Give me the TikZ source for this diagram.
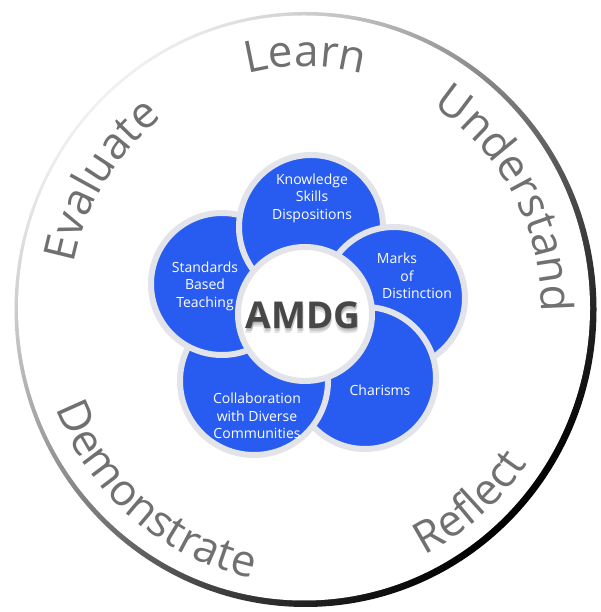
\documentclass[tikz,border=0pt]{standalone}
\usepackage{fontspec}
\setmainfont{Open Sans}
\usetikzlibrary{shadows,decorations.text}
\definecolor{petalblue}{RGB}{40,92,240}
\definecolor{rimgray}{RGB}{226,228,234}
\definecolor{wordgray}{RGB}{112,112,112}
\tikzset{
  petal/.style={circle, draw=rimgray, line width=6pt, fill=petalblue, inner sep=0pt,
    drop shadow={opacity=0.3, shadow xshift=1pt, shadow yshift=-1.5pt}},
  petaltext/.style={text=white, align=center, font=\fontsize{14}{17.5}\selectfont},
  ringword/.style={decorate, decoration={text along path, text align=center, text color=wordgray}},
  hubtext/.style={font=\bfseries\fontsize{37}{37}\selectfont},
}
\newcommand{\wordfont}{\fontsize{44}{44}\selectfont}

\begin{document}
\begin{tikzpicture}[x=1pt,y=1pt]
  \useasboundingbox (0,0) rectangle (601,612);
  \coordinate (c) at (305.5,302.5);

  % outer ring
  \shade[top color=gray!12, bottom color=black, shading angle=45] (c) ellipse [x radius=291, y radius=297.5];
  \fill[white] ([shift={(-1.5,1.5)}]c) ellipse [x radius=286, y radius=292.5];

  \path[ringword, decoration={text={|\wordfont|Learn}}] (c) ++(130:238 and 243) arc[start angle=130, end angle=50, x radius=238, y radius=243];
  \path[ringword, decoration={text={|\wordfont|Understand}}] (c) ++(70:236 and 241) arc[start angle=70, end angle=-13, x radius=236, y radius=241];
  \path[ringword, decoration={text={|\wordfont|Evaluate}}] (c) ++(188:236 and 241) arc[start angle=188, end angle=108, x radius=236, y radius=241];
  \path[ringword, decoration={text={|\wordfont|Demonstrate}}] (c) ++(187:268 and 274) arc[start angle=187, end angle=273, x radius=268, y radius=274];
  \path[ringword, decoration={text={|\wordfont|Reflect}}] (c) ++(280:268 and 274) arc[start angle=280, end angle=342, x radius=268, y radius=274];

  % petals
  \node[petal, minimum size=142pt] (stdC) at (222,328) {};
  \node[petal, minimum size=144pt] (knowC) at (311,385) {};
  \node[petal, minimum size=142pt] (marksC) at (394,314) {};
  \node[petal, minimum size=142pt] (charC) at (365,234) {};
  \node[petal, minimum size=148pt] (collC) at (254,231) {};
  \begin{scope}
    \clip (140,240) rectangle (300,307);
    \node[petal, minimum size=142pt] (stdT) at (222,328) {};
  \end{scope}

  \node[circle, draw=rimgray, line width=6pt, fill=white, minimum size=134pt,
    drop shadow={opacity=0.3, shadow xshift=1pt, shadow yshift=-1.5pt}] (hub) at (305,298) {};
  \node[hubtext, text=black, opacity=0.10] (amdgshadeA) at (303,292) {AMDG};
  \node[hubtext, text=black, opacity=0.12] (amdgshadeB) at (304,294) {AMDG};
  \node[hubtext, text=black, opacity=0.15] (amdgshadeC) at (303.5,295.5) {AMDG};
  \node[hubtext, text=black!72] (amdg) at (303,297) {AMDG};

  \node[petaltext] (know) at (312,414) {Knowledge\\Skills\\Dispositions};
  \node[petaltext] (marks) at (407,336) {Marks\hspace*{20pt}\\of\\\hspace*{20pt}Distinction};
  \node[petaltext] (std) at (205,326) {Standards\\Based\\Teaching};
  \node[petaltext] (char) at (380,222) {Charisms};
  \node[petaltext] (coll) at (257,196) {Collaboration\\with Diverse\\Communities};
\end{tikzpicture}
\end{document}
